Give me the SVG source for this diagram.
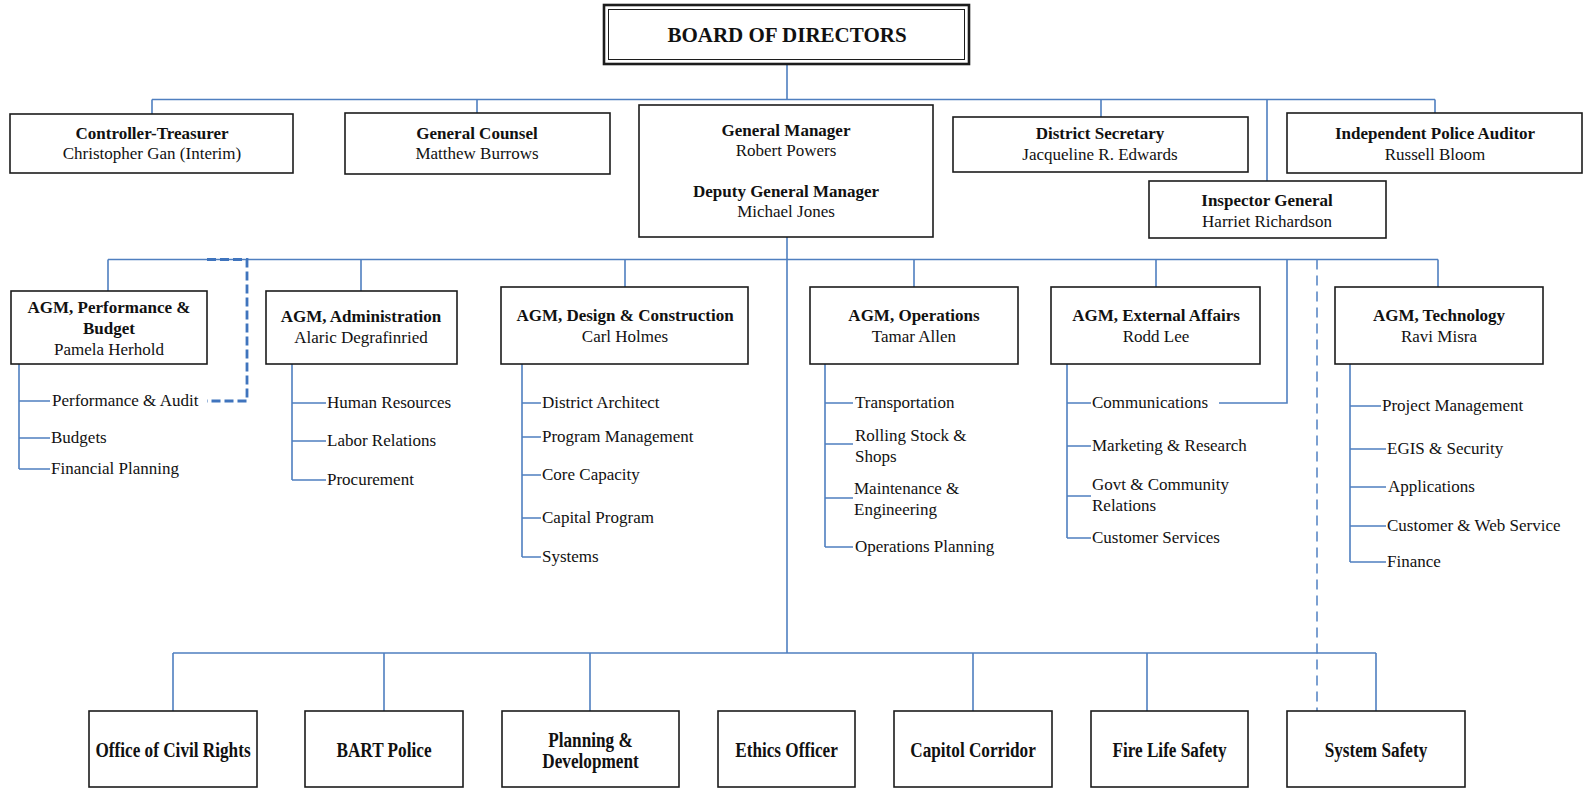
<svg xmlns="http://www.w3.org/2000/svg" width="1587" height="788" viewBox="0 0 1587 788">
  <style>
    .box { fill: #ffffff; stroke: #1c1c1c; stroke-width: 1.6; }
    .ln { fill: none; stroke: #4f7fc0; stroke-width: 1.6; }
    .dash-thick { fill: none; stroke: #3f74bd; stroke-width: 2.8; stroke-dasharray: 9 4; }
    .dash-thin { fill: none; stroke: #5a88c6; stroke-width: 1.6; stroke-dasharray: 10 6; }
    text { font-family: "Liberation Serif", "Times New Roman", serif; fill: #111111; }
    .t { font-size: 17px; font-weight: bold; text-anchor: middle; }
    .n { font-size: 17px; text-anchor: middle; }
    .i { font-size: 17px; }
    .b { font-size: 20px; font-weight: bold; text-anchor: middle; }
    .hd { font-size: 21px; font-weight: bold; text-anchor: middle; }
  </style>

  <!-- connectors -->
  <g id="connectors">
    <!-- board to first tier -->
    <path class="ln" d="M787 65 V99.5 M152 99.5 H1435 M152 99.5 V114 M477 99.5 V113 M1101 99.5 V117 M1267 99.5 V181 M1435 99.5 V113"/>
    <!-- general manager trunk -->
    <path class="ln" d="M787 237 V653"/>
    <!-- AGM tier -->
    <path class="ln" d="M108 259.5 H1438 M108 259.5 V291 M361 259.5 V291 M625 259.5 V287 M914 259.5 V287 M1156 259.5 V287 M1438 259.5 V287"/>
    <!-- communications reports up to GM line -->
    <path class="ln" d="M1219 403 H1287 V259.5"/>
    <!-- dotted reporting lines -->
    <path class="dash-thick" d="M207 259.5 H247 V401 H207"/>
    <path class="dash-thin" d="M1317 259.5 V711"/>
    <!-- sub-unit brackets -->
    <path class="ln" d="M19 364 V469 M19 401 H50 M19 438 H50 M19 469 H50"/>
    <path class="ln" d="M292 364 V480 M292 403 H326 M292 441 H326 M292 480 H326"/>
    <path class="ln" d="M522 364 V557 M522 403 H541 M522 437 H541 M522 475 H541 M522 518 H541 M522 557 H541"/>
    <path class="ln" d="M825 364 V547 M825 403 H853 M825 444 H853 M825 498 H853 M825 547 H853"/>
    <path class="ln" d="M1067 364 V538 M1067 403 H1091 M1067 446 H1091 M1067 496 H1091 M1067 538 H1091"/>
    <path class="ln" d="M1350 364 V562 M1350 406 H1381 M1350 449 H1386 M1350 487 H1386 M1350 526 H1386 M1350 562 H1386"/>
    <!-- staff offices -->
    <path class="ln" d="M173 653 H1376 M173 653 V711 M384 653 V711 M590 653 V711 M1147 653 V711 M973 653 V711 M1376 653 V711"/>
  </g>

  <!-- board -->
  <g id="board">
    <rect x="604" y="5" width="365" height="59" fill="#ffffff" stroke="#1c1c1c" stroke-width="2.6"/>
    <rect x="608.5" y="9.5" width="356" height="50" fill="none" stroke="#1c1c1c" stroke-width="1"/>
    <text class="hd" x="787" y="42">BOARD OF DIRECTORS</text>
  </g>

  <!-- first tier -->
  <g id="controller">
    <rect class="box" x="10" y="114" width="283" height="59"/>
    <text class="t" x="152" y="138.5">Controller-Treasurer</text>
    <text class="n" x="152" y="158.5">Christopher Gan (Interim)</text>
  </g>
  <g id="general-counsel">
    <rect class="box" x="345" y="113" width="265" height="61"/>
    <text class="t" x="477" y="138.5">General Counsel</text>
    <text class="n" x="477" y="159">Matthew Burrows</text>
  </g>
  <g id="general-manager">
    <rect class="box" x="639" y="105" width="294" height="132"/>
    <text class="t" x="786" y="135.5">General Manager</text>
    <text class="n" x="786" y="156">Robert Powers</text>
    <text class="t" x="786" y="197">Deputy General Manager</text>
    <text class="n" x="786" y="217">Michael Jones</text>
  </g>
  <g id="district-secretary">
    <rect class="box" x="953" y="117" width="295" height="55"/>
    <text class="t" x="1100" y="139">District Secretary</text>
    <text class="n" x="1100" y="160">Jacqueline R. Edwards</text>
  </g>
  <g id="police-auditor">
    <rect class="box" x="1287" y="113" width="295" height="60"/>
    <text class="t" x="1435" y="139">Independent Police Auditor</text>
    <text class="n" x="1435" y="160">Russell Bloom</text>
  </g>
  <g id="inspector-general">
    <rect class="box" x="1149" y="181" width="237" height="57"/>
    <text class="t" x="1267" y="206">Inspector General</text>
    <text class="n" x="1267" y="227">Harriet Richardson</text>
  </g>

  <!-- AGM tier -->
  <g id="agm-performance">
    <rect class="box" x="11" y="291" width="196" height="73"/>
    <text class="t" x="109" y="313">AGM, Performance &amp;</text>
    <text class="t" x="109" y="334">Budget</text>
    <text class="n" x="109" y="355">Pamela Herhold</text>
    <text class="i" x="52" y="406">Performance &amp; Audit</text>
    <text class="i" x="51" y="443">Budgets</text>
    <text class="i" x="51" y="474">Financial Planning</text>
  </g>
  <g id="agm-administration">
    <rect class="box" x="266" y="291" width="191" height="73"/>
    <text class="t" x="361" y="322">AGM, Administration</text>
    <text class="n" x="361" y="343">Alaric Degrafinried</text>
    <text class="i" x="327" y="408">Human Resources</text>
    <text class="i" x="327" y="446">Labor Relations</text>
    <text class="i" x="327" y="485">Procurement</text>
  </g>
  <g id="agm-design">
    <rect class="box" x="501" y="287" width="247" height="77"/>
    <text class="t" x="625" y="321">AGM, Design &amp; Construction</text>
    <text class="n" x="625" y="342">Carl Holmes</text>
    <text class="i" x="542" y="408">District Architect</text>
    <text class="i" x="542" y="442">Program Management</text>
    <text class="i" x="542" y="480">Core Capacity</text>
    <text class="i" x="542" y="523">Capital Program</text>
    <text class="i" x="542" y="562">Systems</text>
  </g>
  <g id="agm-operations">
    <rect class="box" x="810" y="287" width="208" height="77"/>
    <text class="t" x="914" y="321">AGM, Operations</text>
    <text class="n" x="914" y="342">Tamar Allen</text>
    <text class="i" x="855" y="408">Transportation</text>
    <text class="i" x="855" y="441">Rolling Stock &amp;</text>
    <text class="i" x="855" y="462">Shops</text>
    <text class="i" x="854" y="494">Maintenance &amp;</text>
    <text class="i" x="854" y="515">Engineering</text>
    <text class="i" x="855" y="552">Operations Planning</text>
  </g>
  <g id="agm-external">
    <rect class="box" x="1051" y="287" width="209" height="77"/>
    <text class="t" x="1156" y="321">AGM, External Affairs</text>
    <text class="n" x="1156" y="342">Rodd Lee</text>
    <text class="i" x="1092" y="408">Communications</text>
    <text class="i" x="1092" y="451">Marketing &amp; Research</text>
    <text class="i" x="1092" y="490">Govt &amp; Community</text>
    <text class="i" x="1092" y="511">Relations</text>
    <text class="i" x="1092" y="543">Customer Services</text>
  </g>
  <g id="agm-technology">
    <rect class="box" x="1335" y="287" width="208" height="77"/>
    <text class="t" x="1439" y="321">AGM, Technology</text>
    <text class="n" x="1439" y="342">Ravi Misra</text>
    <text class="i" x="1382" y="411">Project Management</text>
    <text class="i" x="1387" y="454">EGIS &amp; Security</text>
    <text class="i" x="1388" y="492">Applications</text>
    <text class="i" x="1387" y="531">Customer &amp; Web Service</text>
    <text class="i" x="1387" y="567">Finance</text>
  </g>

  <!-- staff offices -->
  <g id="civil-rights">
    <rect class="box" x="89" y="711" width="168" height="76"/>
    <text class="b" transform="translate(173 757) scale(0.86 1)">Office of Civil Rights</text>
  </g>
  <g id="bart-police">
    <rect class="box" x="305" y="711" width="158" height="76"/>
    <text class="b" transform="translate(384 757) scale(0.86 1)">BART Police</text>
  </g>
  <g id="planning">
    <rect class="box" x="502" y="711" width="177" height="76"/>
    <text class="b" transform="translate(590.5 747) scale(0.86 1)">Planning &amp;</text>
    <text class="b" transform="translate(590.5 768) scale(0.86 1)">Development</text>
  </g>
  <g id="ethics">
    <rect class="box" x="718" y="711" width="137" height="76"/>
    <text class="b" transform="translate(786.5 757) scale(0.86 1)">Ethics Officer</text>
  </g>
  <g id="capitol-corridor">
    <rect class="box" x="894" y="711" width="158" height="76"/>
    <text class="b" transform="translate(973 757) scale(0.86 1)">Capitol Corridor</text>
  </g>
  <g id="fire-life-safety">
    <rect class="box" x="1091" y="711" width="157" height="76"/>
    <text class="b" transform="translate(1169.5 757) scale(0.86 1)">Fire Life Safety</text>
  </g>
  <g id="system-safety">
    <rect class="box" x="1287" y="711" width="178" height="76"/>
    <text class="b" transform="translate(1376 757) scale(0.86 1)">System Safety</text>
  </g>
</svg>
